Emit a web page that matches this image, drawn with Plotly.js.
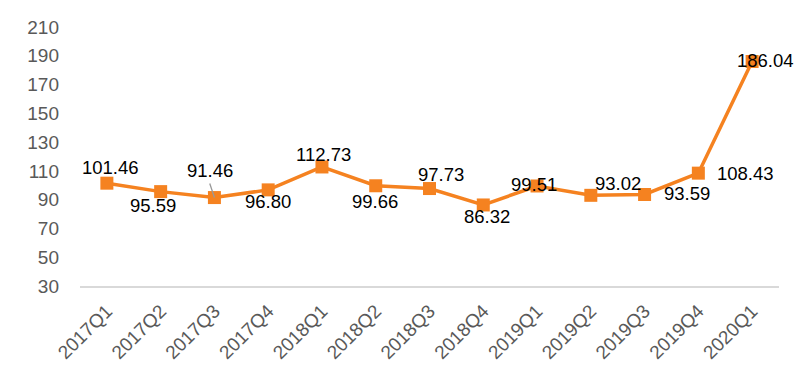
<!DOCTYPE html>
<html>
<head>
<meta charset="utf-8">
<script src="https://cdn.plot.ly/plotly-3.0.1.min.js"></script>
<style>html,body{margin:0;padding:0;background:#fff;}#chart{width:800px;height:375px;}</style>
</head>
<body>
<div id="chart"></div>
<script>
// Data
var categories = ["2017Q1","2017Q2","2017Q3","2017Q4","2018Q1","2018Q2","2018Q3","2018Q4","2019Q1","2019Q2","2019Q3","2019Q4","2020Q1"];
var values = [101.46, 95.59, 91.46, 96.80, 112.73, 99.66, 97.73, 86.32, 99.51, 93.02, 93.59, 108.43, 186.04];
var yTicks = [30, 50, 70, 90, 110, 130, 150, 170, 190, 210];

// Label offsets (style, px)
var labelDX = [4, -8, -4, 0, 2, -1, 11, 4, -3, 27, 42, 47, 13];
var labelDY = [16, -14, 27, -12, 12, -16, 14, -12, 1, 12, 1, 0, 1];

var orange = "#F58220";

var trace = {
  x: categories,
  y: values,
  type: "scatter",
  mode: "lines+markers",
  line: {color: orange, width: 3.5},
  marker: {symbol: "square", size: 13, color: orange},
  hoverinfo: "x+y"
};

var annotations = categories.map(function (c, i) {
  return {
    x: c, y: values[i], xref: "x", yref: "y",
    text: values[i].toFixed(2),
    showarrow: false,
    xshift: labelDX[i], yshift: labelDY[i],
    xanchor: "center", yanchor: "middle",
    font: {family: "Arial, Liberation Sans, sans-serif", size: 18.5, color: "#000000"}
  };
});
// leader line for the 2017Q3 label
annotations.push({
  x: categories[2], y: values[2], xref: "x", yref: "y",
  text: " ", showarrow: true, arrowhead: 0, arrowwidth: 1.3,
  arrowcolor: "#999999", ax: -5, ay: -15, standoff: 0,
  font: {size: 1}, borderpad: 0
});

var layout = {
  width: 800, height: 375,
  margin: {l: 80, r: 21, t: 27, b: 89},
  paper_bgcolor: "#ffffff", plot_bgcolor: "#ffffff",
  showlegend: false,
  font: {family: "Arial, Liberation Sans, sans-serif", color: "#595959"},
  xaxis: {
    type: "category",
    range: [-0.5, categories.length - 0.5],
    tickangle: -45,
    showgrid: false, zeroline: false,
    showline: true, linecolor: "#d9d9d9", linewidth: 1.5,
    ticks: "",
    ticklabelstandoff: 5,
    tickfont: {size: 19, color: "#595959"}
  },
  yaxis: {
    range: [30, 210],
    tickvals: yTicks,
    ticktext: yTicks.map(String),
    showgrid: false, zeroline: false, showline: false,
    ticks: "",
    ticklabelstandoff: 20,
    tickfont: {size: 19, color: "#595959"}
  },
  annotations: annotations
};

Plotly.newPlot("chart", [trace], layout, {staticPlot: true, displayModeBar: false});
</script>
</body>
</html>
